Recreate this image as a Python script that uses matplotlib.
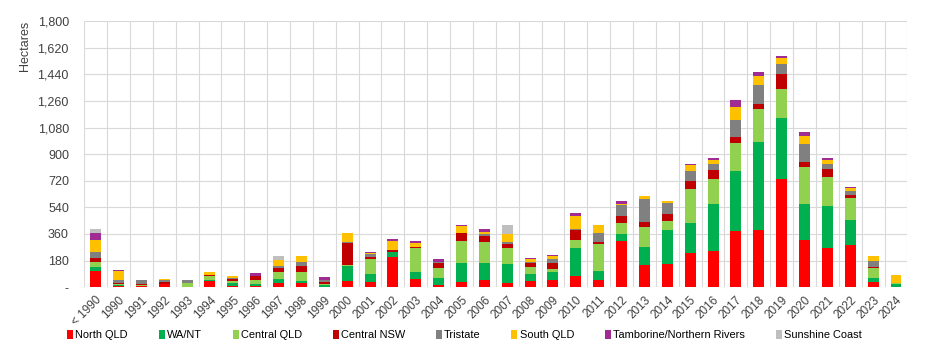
import numpy as np
import matplotlib
matplotlib.use("Agg")
import matplotlib.pyplot as plt
from matplotlib.ticker import FuncFormatter, MultipleLocator

categories = ["< 1990"] + [str(y) for y in range(1990, 2025)]

north_qld = [108, 10, 8, 18, 0, 43, 5, 10, 25, 25, 3, 43, 34, 205, 58, 11, 34, 47, 29, 40,
             47, 77, 45, 310, 151, 155, 234, 243, 382, 387, 733, 319, 263, 283, 36, 0]
wa_nt = [29, 3, 0, 0, 3, 3, 20, 8, 27, 15, 8, 103, 58, 33, 46, 52, 130, 113, 126, 48,
         56, 189, 63, 48, 121, 234, 203, 322, 405, 596, 410, 241, 284, 174, 27, 20]
central_qld = [34, 5, 3, 5, 25, 28, 18, 30, 52, 64, 10, 7, 97, 0, 161, 67, 149, 144, 110, 49,
               18, 51, 182, 76, 135, 57, 229, 164, 189, 221, 196, 250, 200, 148, 63, 5]
central_nsw = [27, 8, 10, 10, 0, 6, 15, 25, 24, 38, 14, 146, 16, 16, 9, 36, 54, 45, 30, 23,
               45, 68, 14, 47, 32, 51, 52, 61, 41, 38, 105, 36, 52, 18, 13, 0]
tristate = [38, 22, 24, 15, 18, 5, 5, 5, 18, 31, 14, 8, 18, 0, 0, 4, 0, 13, 9, 13,
            27, 9, 63, 76, 157, 72, 65, 42, 115, 126, 63, 121, 33, 29, 39, 0]
south_qld = [81, 62, 0, 8, 0, 14, 12, 0, 36, 36, 0, 56, 5, 59, 27, 0, 45, 9, 54, 18,
             16, 90, 54, 7, 23, 11, 41, 27, 87, 58, 45, 57, 27, 16, 31, 55]
tamborine = [50, 8, 0, 0, 0, 0, 0, 20, 0, 0, 18, 6, 9, 13, 12, 23, 11, 23, 0, 9,
             7, 18, 0, 18, 0, 0, 11, 16, 45, 27, 14, 27, 12, 9, 0, 0]
sunshine_coast = [29, 0, 0, 0, 0, 0, 0, 0, 27, 0, 0, 0, 0, 0, 0, 0, 0, 0, 63, 0,
                  0, 0, 0, 0, 0, 0, 0, 0, 0, 0, 0, 0, 0, 0, 0, 0]

series = [
    ("North QLD", north_qld, "#FF0000"),
    ("WA/NT", wa_nt, "#00B050"),
    ("Central QLD", central_qld, "#92D050"),
    ("Central NSW", central_nsw, "#C00000"),
    ("Tristate", tristate, "#808080"),
    ("South QLD", south_qld, "#FFC000"),
    ("Tamborine/Northern Rivers", tamborine, "#A02B93"),
    ("Sunshine Coast", sunshine_coast, "#BFBFBF"),
]

plt.rcParams['font.family'] = ['Liberation Sans', 'DejaVu Sans']

fig = plt.figure(figsize=(9.25, 3.58), dpi=100)
ax = fig.add_axes([0.091, 0.198, 0.890, 0.743])

x = np.arange(len(categories))
bottom = np.zeros(len(categories))
for name, vals, col in series:
    vals = np.array(vals, dtype=float)
    ax.bar(x, vals, width=0.48, bottom=bottom, color=col, label=name, zorder=3)
    bottom += vals

ax.set_xlim(-0.5, len(categories) - 0.5)
ax.set_ylim(0, 1800)
ax.yaxis.set_major_locator(MultipleLocator(180))
ax.yaxis.set_major_formatter(FuncFormatter(lambda v, p: "-" if v == 0 else f"{int(v):,}"))
ax.set_xticks(x)
ax.set_xticklabels(categories, rotation=45, ha="right", rotation_mode="anchor", fontsize=8.5)
ax.set_xticks(np.arange(-0.5, len(categories)), minor=True)
ax.tick_params(axis="y", labelsize=9, length=0, pad=11, colors="#404040")
ax.tick_params(axis="x", which="both", length=0, pad=5, colors="#404040")
ax.grid(axis="y", color="#D9D9D9", linewidth=0.8, zorder=0)
ax.grid(axis="x", which="minor", color="#D9D9D9", linewidth=0.8, zorder=0)
for s in ax.spines.values():
    s.set_visible(False)
ax.set_ylabel("Hectares", fontsize=9, color="#404040", labelpad=5, loc="top")

fig.legend(loc="center", bbox_to_anchor=(0.502, 0.065), ncol=8, frameon=False,
           handlelength=0.55, handleheight=0.9, handletextpad=0.2, columnspacing=2.8,
           prop={'family': ['Liberation Sans', 'DejaVu Sans'], 'size': 7.9})

fig.savefig("out.png", dpi=100)
